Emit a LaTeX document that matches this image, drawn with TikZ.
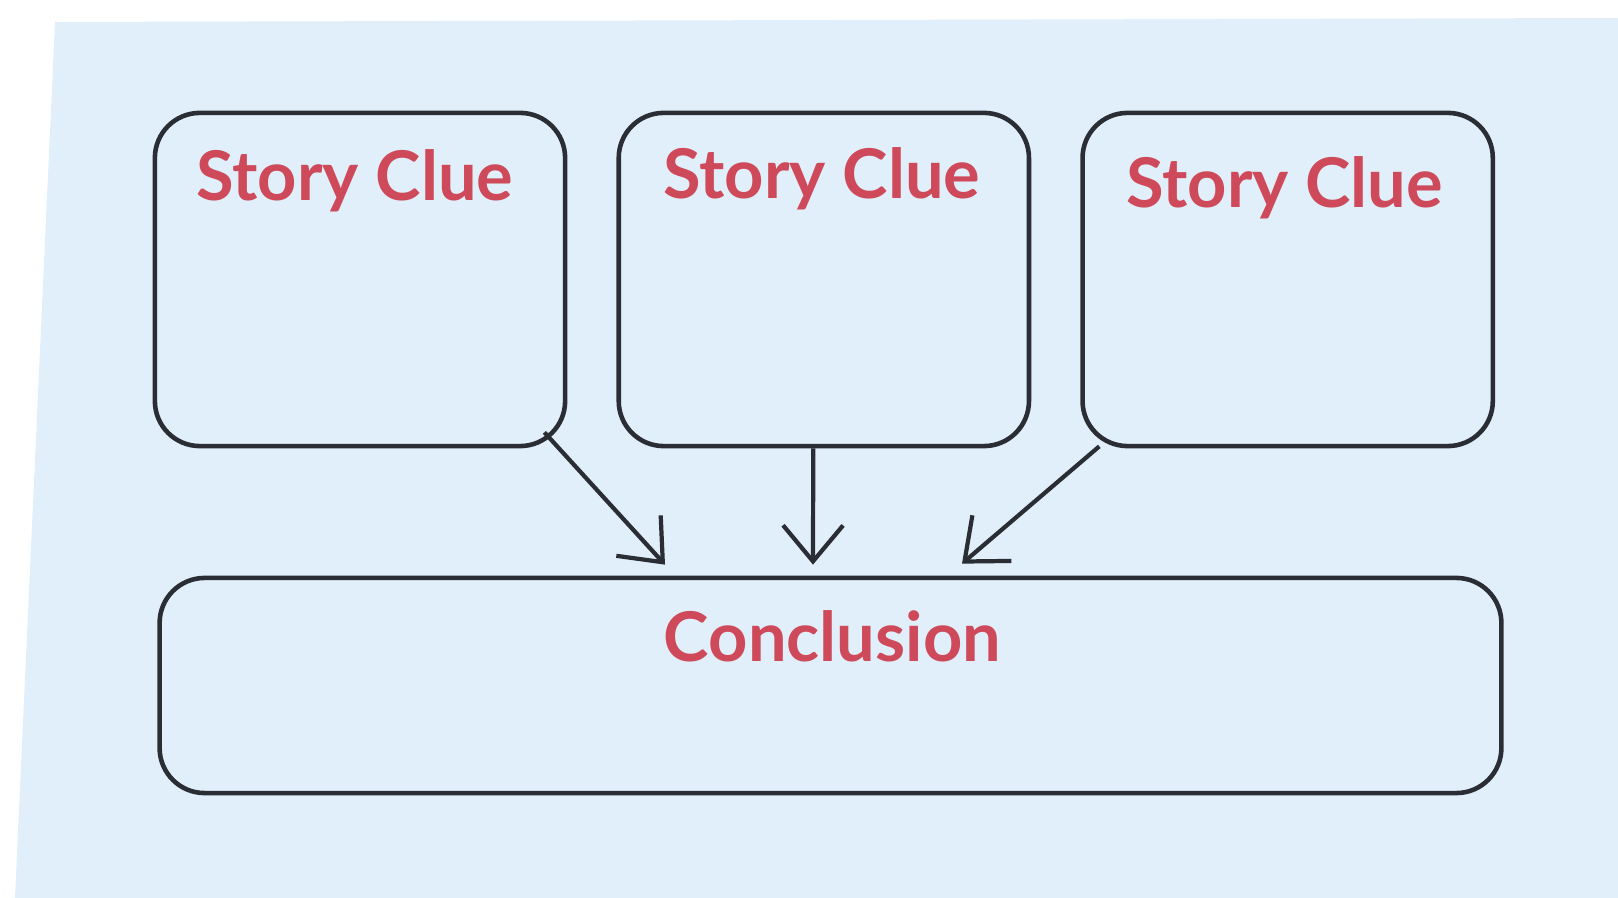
\documentclass[tikz,border=0pt]{standalone}
\usepackage{fontspec}
\setmainfont{Lato}
\usepackage{tikz}
\usetikzlibrary{arrows.meta,positioning}
\definecolor{panelblue}{RGB}{224,239,250}
\definecolor{boxline}{RGB}{42,46,52}
\definecolor{cluered}{RGB}{206,74,90}

\begin{document}
\begin{tikzpicture}[x=0.01cm, y=-0.01cm,
    cluebox/.style={rectangle, draw=boxline, line width=1.3pt,
        minimum width=4.1cm, minimum height=3.33cm, rounded corners=0.45cm},
    cluetext/.style={text=cluered, anchor=base, font=\bfseries\fontsize{19.5}{22}\selectfont},
    >={Straight Barb[length=3.6mm,width=6mm]}
]
\useasboundingbox (0,0) rectangle (1618,898);
\fill[panelblue] (55,22) -- (1618,18) -- (1618,898) -- (15,898) -- cycle;

\node[cluebox] (clue1) at (360,279.5) {};
\node[cluebox, right=0.49cm of clue1] (clue2) {};
\node[cluebox, right=0.49cm of clue2] (clue3) {};
\node[cluebox, minimum width=13.41cm, minimum height=2.15cm] (concl) at (830.5,685.5) {};

\node[cluetext] (txt1) at ([shift={(-5,90)}]clue1.north) {Story Clue};
\node[cluetext] (txt2) at ([shift={(-2,88)}]clue2.north) {Story Clue};
\node[cluetext] (txt3) at ([shift={(-3,97)}]clue3.north) {Story Clue};
\node[cluetext] (txtc) at ([shift={(2,86)}]concl.north) {Conclusion};

\draw[->, boxline, line width=1.2pt] ([shift={(-23,-16)}]clue1.south east) -- ([shift={(-165.5,-11)}]concl.north);
\draw[->, boxline, line width=1.2pt] ([shift={(-10.6,0)}]clue2.south) -- ([shift={(-17.5,-11)}]concl.north);
\draw[->, boxline, line width=1.2pt] ([shift={(19,-2)}]clue3.south west) -- ([shift={(131.5,-12)}]concl.north);
\end{tikzpicture}
\end{document}
